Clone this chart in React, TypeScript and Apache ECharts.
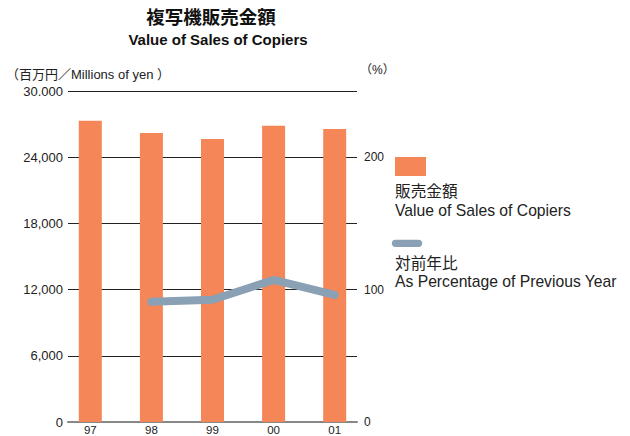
import React, { useEffect, useRef } from "react";
import * as echarts from "echarts";

const categories = ["97", "98", "99", "00", "01"];
const salesValues = [27300, 26200, 25650, 26850, 26550];
const ratioValues: (number | null)[] = [null, 90.8, 92.3, 107.3, 96];
const leftTicks = { min: 0, max: 30000, interval: 6000 };
const rightTicks = { min: 0, max: 250, interval: 50 };
const rightLabelled = [0, 100, 200];

const titleJa = "複写機販売金額";
const titleEn = "Value of Sales of Copiers";
const leftUnit = "（百万円／Millions of yen ）";
const rightUnit = "（%）";
const legendSalesJa = "販売金額";
const legendSalesEn = "Value of Sales of Copiers";
const legendRatioJa = "対前年比";
const legendRatioEn = "As Percentage of Previous Year";

const FONT = "'Liberation Sans', 'Noto Sans CJK JP', sans-serif";
const BAR = "#F58657";
const LINE = "#8AA1B5";
const TEXT = "#222";

export default function App() {
  const ref = useRef<HTMLDivElement>(null);
  useEffect(() => {
    if (!ref.current) return;
    const chart = echarts.init(ref.current, undefined, { renderer: "svg" });
    const barData = salesValues.map((v, i) => [i, v]);
    const lineData = ratioValues
      .map((v, i) => (v == null ? null : [i, v]))
      .filter((d) => d != null);
    chart.setOption({
      animation: false,
      textStyle: { fontFamily: FONT },
      grid: {
        left: 68,
        right: 273,
        top: 91,
        bottom: 14,
        containLabel: false,
        outerBoundsMode: "none",
      },
      xAxis: {
        type: "value",
        min: -0.365,
        max: 4.365,
        axisLine: { show: true, lineStyle: { color: "#888", width: 2 } },
        axisTick: { show: false },
        splitLine: { show: false },
        axisLabel: {
          customValues: [0, 1, 2, 3, 4],
          formatter: (v: number) => categories[Math.round(v)] ?? "",
          margin: 2,
          fontSize: 11.5,
          lineHeight: 12,
          color: TEXT,
          fontFamily: FONT,
        },
      },
      yAxis: [
        {
          type: "value",
          min: leftTicks.min,
          max: leftTicks.max,
          interval: leftTicks.interval,
          axisLine: { show: false },
          axisTick: { show: false },
          splitLine: { show: true, lineStyle: { color: "#222", width: 1 } },
          axisLabel: {
            formatter: (v: number) =>
              v === 30000 ? "30.000" : v.toLocaleString("en-US"),
            fontSize: 13,
            margin: 5,
            color: TEXT,
            fontFamily: FONT,
          },
        },
        {
          type: "value",
          position: "right",
          min: rightTicks.min,
          max: rightTicks.max,
          interval: rightTicks.interval,
          axisLine: { show: false },
          axisTick: { show: false },
          splitLine: { show: false },
          axisLabel: {
            formatter: (v: number) =>
              rightLabelled.includes(v) ? String(v) : "",
            fontSize: 12,
            margin: 7,
            color: TEXT,
            fontFamily: FONT,
          },
        },
      ],
      series: [
        {
          type: "bar",
          name: legendSalesEn,
          data: barData,
          barWidth: 23,
          itemStyle: { color: BAR },
          z: 2,
        },
        {
          type: "line",
          name: legendRatioEn,
          yAxisIndex: 1,
          data: lineData,
          symbol: "none",
          lineStyle: { color: LINE, width: 8, cap: "round", join: "round" },
          z: 3,
        },
      ],
      graphic: [
        {
          type: "text",
          x: 211,
          y: 17,
          style: {
            text: titleJa,
            font: `bold 18.5px ${FONT}`,
            fill: "#111",
            textAlign: "center",
            textVerticalAlign: "middle",
          },
        },
        {
          type: "text",
          x: 218,
          y: 39,
          style: {
            text: titleEn,
            font: `bold 15px ${FONT}`,
            fill: "#111",
            textAlign: "center",
            textVerticalAlign: "middle",
          },
        },
        {
          type: "text",
          x: 6,
          y: 74,
          style: {
            text: leftUnit,
            font: `13px ${FONT}`,
            fill: TEXT,
            textAlign: "left",
            textVerticalAlign: "middle",
          },
        },
        {
          type: "text",
          x: 360,
          y: 70,
          style: {
            text: rightUnit,
            font: `12px ${FONT}`,
            fill: TEXT,
            textAlign: "left",
            textVerticalAlign: "middle",
          },
        },
        {
          type: "rect",
          shape: { x: 395, y: 157, width: 31, height: 19 },
          style: { fill: BAR },
        },
        {
          type: "text",
          x: 395,
          y: 191,
          style: {
            text: legendSalesJa,
            font: `15.7px ${FONT}`,
            fill: TEXT,
            textAlign: "left",
            textVerticalAlign: "middle",
          },
        },
        {
          type: "text",
          x: 395,
          y: 210,
          style: {
            text: legendSalesEn,
            font: `15.7px ${FONT}`,
            fill: TEXT,
            textAlign: "left",
            textVerticalAlign: "middle",
          },
        },
        {
          type: "line",
          shape: { x1: 395.5, y1: 243.3, x2: 418.5, y2: 243.3 },
          style: { stroke: LINE, lineWidth: 7.3, lineCap: "round" },
        },
        {
          type: "text",
          x: 395,
          y: 263,
          style: {
            text: legendRatioJa,
            font: `15.7px ${FONT}`,
            fill: TEXT,
            textAlign: "left",
            textVerticalAlign: "middle",
          },
        },
        {
          type: "text",
          x: 395,
          y: 281,
          style: {
            text: legendRatioEn,
            font: `15.7px ${FONT}`,
            fill: TEXT,
            textAlign: "left",
            textVerticalAlign: "middle",
          },
        },
      ],
    });
    return () => chart.dispose();
  }, []);
  return (
    <div
      ref={ref}
      style={{ position: "absolute", left: 0, top: 0, width: 630, height: 436 }}
    />
  );
}
